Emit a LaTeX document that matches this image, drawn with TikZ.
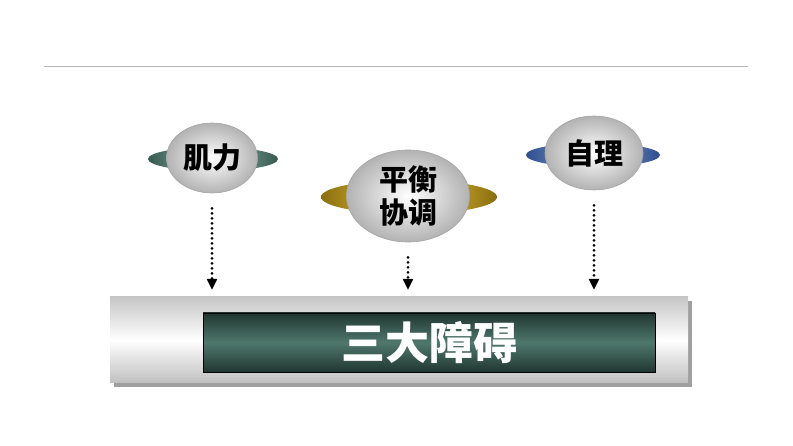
\documentclass[tikz,border=0pt]{standalone}
\usepackage{xcolor}
\usepackage{fontspec}
\usetikzlibrary{arrows.meta,shapes.geometric,positioning}
\newfontfamily\cjk{Noto Sans CJK SC}

\definecolor{ruleGray}{HTML}{B4B4B4}
\definecolor{ringGreen}{HTML}{355A50}
\definecolor{ringGreenLight}{HTML}{9DBDB2}
\definecolor{ringGold}{HTML}{8A6E10}
\definecolor{ringGoldLight}{HTML}{F2CF3A}
\definecolor{ringBlue}{HTML}{2E4E8E}
\definecolor{ringBlueLight}{HTML}{8FA8DC}
\definecolor{barDark}{HTML}{203631}
\definecolor{barMid}{HTML}{4F786D}

\tikzset{
	ball/.style={ellipse, draw=gray!70, line width=0.6pt,
		inner color=white, outer color=gray!60,
		font=\cjk\bfseries\fontsize{29}{33}\selectfont, align=center, inner sep=0pt},
	ring/.style={ellipse, minimum height=24pt, draw=none,
		left color=#1, right color=#1, middle color=#1Light},
	dotarrow/.style={line width=3pt, dash pattern=on 0pt off 5pt, line cap=round,
		-{Triangle[width=10pt,length=11pt]}, shorten <=15pt, shorten >=7pt}
}

\begin{document}
\begin{tikzpicture}[x=1pt,y=-1pt]
				\useasboundingbox (0,0) rectangle (793,446);
				
				% top rule
				\draw[ruleGray, line width=1pt] (44,67) -- (748,67);
				
				% the three rings behind the balls
				\node[ring=ringGreen, minimum width=130pt] at (213,159) {};
				\node[ring=ringGold, minimum width=176pt, minimum height=34pt] at (409,197) {};
				\node[ring=ringBlue, minimum width=134pt] at (593,155) {};
				
				% the balls
				\node[ball, minimum width=91pt, minimum height=70pt] (jili) at (212,158) {肌力};
				\node[ball, minimum width=123pt, minimum height=92pt] (pingheng) at (408,196) {平衡\\协调};
				\node[ball, minimum width=98pt, minimum height=74pt] (zili) at (594,153) {自理};
				
				% the bar at the bottom
				\fill[gray!75] (114,301) rectangle (692,387);
				\node[minimum width=578pt, minimum height=86pt, inner sep=0pt,
					top color=gray!45, bottom color=gray!50, middle color=white] (bar) at (399,340) {};
				\node[draw=black, line width=0.8pt, minimum width=452pt, minimum height=59pt, inner sep=0pt,
					top color=barDark, bottom color=barDark, middle color=barMid,
					text=white, font=\cjk\bfseries\fontsize{44}{48}\selectfont] (inner) at (429,342.5) {三大障碍};
				
				% dotted arrows
				\draw[dotarrow] (jili.south) -- (jili.south |- bar.north);
				\draw[dotarrow] (pingheng.south) -- (pingheng.south |- bar.north);
				\draw[dotarrow] (zili.south) -- (zili.south |- bar.north);
				
\end{tikzpicture}
\end{document}
